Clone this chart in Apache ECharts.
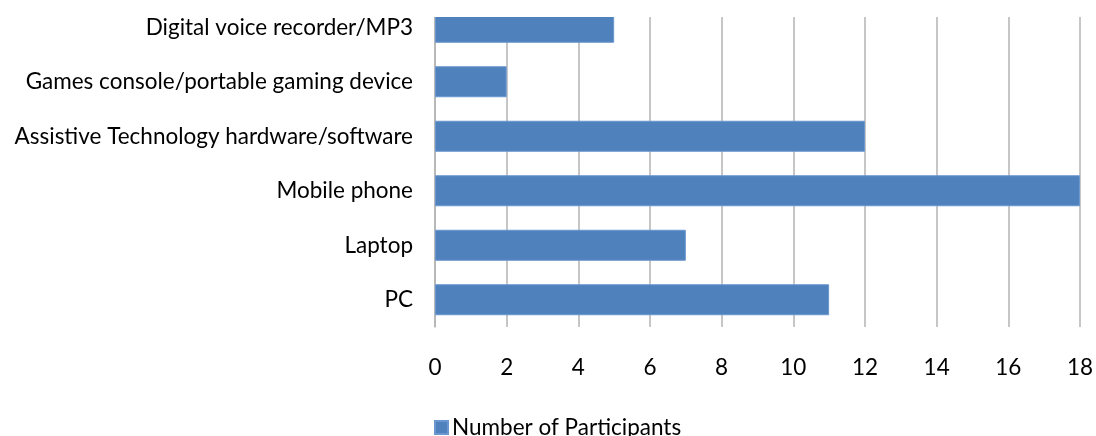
<!DOCTYPE html>
<html><head><meta charset="utf-8">
<script src="https://cdn.jsdelivr.net/npm/echarts@6/dist/echarts.min.js"></script>
<style>html,body{margin:0;padding:0;background:#fff}#c{width:1096px;height:436px}</style>
</head><body><div id="c"></div>
<script>
const categories = ["PC", "Laptop", "Mobile phone", "Assistive Technology hardware/software", "Games console/portable gaming device", "Digital voice recorder/MP3"];
const participants = [11, 7, 18, 12, 2, 5];
const xTicks = [0, 2, 4, 6, 8, 10, 12, 14, 16, 18];
const seriesName = "Number of Participants";

const FONT = "Lato, 'Open Sans', sans-serif";
const FS = 22.5;
const chart = echarts.init(document.getElementById('c'), null, {renderer: 'canvas'});
chart.setOption({
  animation: false,
  grid: {left: 435, right: 13, top: 0, bottom: 109},
  legend: {
    data: [seriesName], left: 434, top: 416, padding: 0, itemWidth: 13, itemHeight: 13, itemGap: 6,
    icon: 'rect', textStyle: {fontFamily: FONT, fontSize: FS, color: '#000', padding: [0, 0, 0, -1]}
  },
  xAxis: {
    type: 'value', min: xTicks[0], max: xTicks[xTicks.length - 1], interval: 2,
    axisLine: {show: false}, axisTick: {show: false},
    splitLine: {show: true, lineStyle: {color: '#b3b3b3', width: 1.5}},
    axisLabel: {margin: 29, fontFamily: FONT, fontSize: FS, color: '#000'}
  },
  yAxis: {
    type: 'category', data: categories,
    axisLine: {show: true, lineStyle: {color: '#b3b3b3', width: 1.5}},
    axisTick: {show: false},
    axisLabel: {margin: 22, fontFamily: FONT, fontSize: FS, color: '#000'}
  },
  series: [{
    name: seriesName, type: 'bar', data: participants, barWidth: 31,
    itemStyle: {color: '#4f81bd', borderColor: '#6a97d0', borderWidth: 1}
  }],
  graphic: [{type: 'rect', left: 425, top: 0, shape: {width: 671, height: 17}, style: {fill: '#fff'}, z: 100}]
});
</script></body></html>
